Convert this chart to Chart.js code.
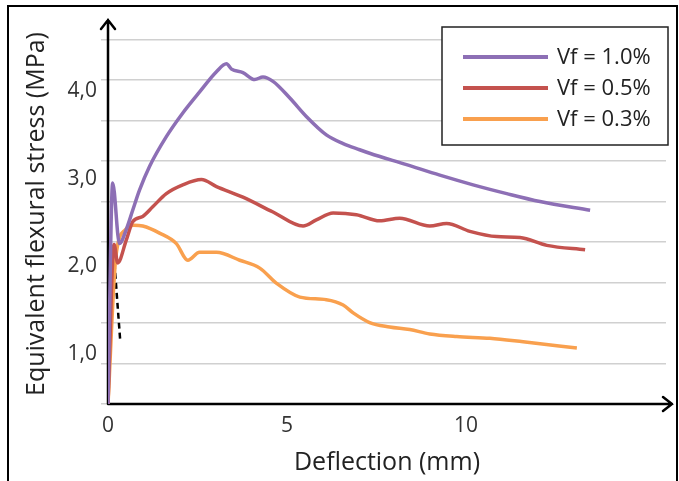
<!DOCTYPE html>
<html>
<head>
<meta charset="utf-8">
<script src="https://cdn.jsdelivr.net/npm/chart.js@4/dist/chart.umd.min.js"></script>
<style>
  html, body { margin: 0; padding: 0; background: #fff; }
  #wrap { width: 679px; height: 481px; }
</style>
</head>
<body>
<div id="wrap"><canvas id="chart" width="679" height="481"></canvas></div>
<script>
// Deflection (mm) and equivalent flexural stress (MPa)
var vf10X = [0, 0.13, 0.32, 0.51, 0.69, 0.88, 1.16, 1.63, 2.09, 2.56, 3.03, 3.31, 3.45, 3.77, 4.10, 4.33, 4.61, 5.08, 5.54, 6.10, 6.57, 7.03, 7.31, 8.34, 9.27, 10.20, 11.14, 12.07, 13.47];
var vf10Y = [0.43, 2.95, 2.26, 2.42, 2.64, 2.87, 3.14, 3.48, 3.75, 3.99, 4.22, 4.31, 4.25, 4.21, 4.13, 4.16, 4.11, 3.92, 3.71, 3.50, 3.40, 3.33, 3.29, 3.16, 3.04, 2.93, 2.83, 2.74, 2.64];

var vf05X = [0, 0.17, 0.27, 0.51, 0.69, 0.97, 1.25, 1.63, 2.09, 2.61, 3.03, 3.77, 4.61, 5.45, 5.82, 6.29, 6.94, 7.59, 8.15, 8.99, 9.46, 10.11, 10.86, 11.51, 12.26, 13.33];
var vf05Y = [0.43, 2.25, 2.04, 2.30, 2.51, 2.57, 2.68, 2.83, 2.93, 2.99, 2.91, 2.79, 2.62, 2.46, 2.53, 2.61, 2.59, 2.52, 2.55, 2.46, 2.49, 2.40, 2.34, 2.33, 2.24, 2.19];

var vf03X = [0, 0.22, 0.49, 0.72, 0.97, 1.44, 1.91, 2.23, 2.56, 3.03, 3.68, 4.24, 4.70, 5.36, 6.10, 6.57, 6.85, 7.31, 7.87, 8.43, 8.99, 9.74, 10.67, 11.60, 13.10];
var vf03Y = [0.43, 2.11, 2.42, 2.47, 2.46, 2.38, 2.26, 2.07, 2.16, 2.16, 2.07, 1.98, 1.81, 1.65, 1.62, 1.56, 1.47, 1.36, 1.31, 1.28, 1.23, 1.20, 1.18, 1.14, 1.07];

// dashed initial-slope line
var dashX = [0.18, 0.34];
var dashY = [2.04, 1.16];

var seriesNames = ['Vf = 1.0%', 'Vf = 0.5%', 'Vf = 0.3%'];
var xTickValues = [0, 5, 10];
var yTickValues = [1, 2, 3, 4];

function toPoints(xs, ys) {
  var pts = [];
  for (var i = 0; i < xs.length; i++) {
    pts.push({x: xs[i], y: ys[i]});
  }
  return pts;
}

var FONT = "'Open Sans', 'DejaVu Sans', sans-serif";

// axes with arrow heads, drawn under the curves
var axesPlugin = {
  id: 'arrowAxes',
  beforeDatasetsDraw: function(chart) {
    var ctx = chart.ctx;
    var a = chart.chartArea;
    ctx.save();
    ctx.strokeStyle = '#000';
    ctx.lineWidth = 2.5;
    ctx.lineCap = 'round';
    ctx.beginPath();
    ctx.moveTo(a.left, a.bottom);
    ctx.lineTo(a.right + 6, a.bottom);
    ctx.moveTo(a.right - 3, a.bottom - 7);
    ctx.lineTo(a.right + 6, a.bottom);
    ctx.lineTo(a.right - 3, a.bottom + 7);
    ctx.moveTo(a.left, a.bottom);
    ctx.lineTo(a.left, a.top - 4);
    ctx.moveTo(a.left - 7, a.top + 5);
    ctx.lineTo(a.left, a.top - 4);
    ctx.lineTo(a.left + 7, a.top + 5);
    ctx.stroke();
    ctx.restore();
  }
};

// boxed legend in the top right corner plus the outer frame
var boxPlugin = {
  id: 'boxLegend',
  afterDraw: function(chart) {
    var ctx = chart.ctx;
    ctx.save();
    var bx = 442, by = 27, bw = 226, bh = 118;
    ctx.fillStyle = '#fff';
    ctx.fillRect(bx, by, bw, bh);
    ctx.strokeStyle = '#222';
    ctx.lineWidth = 1.5;
    ctx.strokeRect(bx, by, bw, bh);

    var row = 0;
    chart.data.datasets.forEach(function(ds) {
      if (!ds.label) return;
      var y = by + 30 + row * 31;
      ctx.strokeStyle = ds.borderColor;
      ctx.lineWidth = 4;
      ctx.beginPath();
      ctx.moveTo(bx + 21, y);
      ctx.lineTo(bx + 106, y);
      ctx.stroke();
      ctx.fillStyle = '#222';
      ctx.font = '22px ' + FONT;
      ctx.textBaseline = 'middle';
      ctx.fillText(ds.label, bx + 115, y + 1);
      row++;
    });

    ctx.strokeStyle = '#000';
    ctx.lineWidth = 2;
    ctx.strokeRect(8, 6, 669, 490);
    ctx.restore();
  }
};

var lineStyle = {
  borderWidth: 3.5,
  pointRadius: 0,
  fill: false,
  cubicInterpolationMode: 'monotone'
};

var chart = new Chart(document.getElementById('chart'), {
  type: 'line',
  data: {
    datasets: [
      Object.assign({label: seriesNames[0], data: toPoints(vf10X, vf10Y), borderColor: '#8D6FB5'}, lineStyle),
      Object.assign({label: seriesNames[1], data: toPoints(vf05X, vf05Y), borderColor: '#C4524E'}, lineStyle),
      Object.assign({label: seriesNames[2], data: toPoints(vf03X, vf03Y), borderColor: '#F9A04E'}, lineStyle),
      {
        label: '',
        data: toPoints(dashX, dashY),
        borderColor: '#000',
        borderWidth: 2.5,
        borderDash: [6, 4],
        pointRadius: 0,
        fill: false
      }
    ]
  },
  options: {
    responsive: false,
    animation: false,
    layout: { padding: { top: 24, right: 13, left: 0, bottom: 0 } },
    plugins: {
      legend: { display: false },
      tooltip: { enabled: false }
    },
    scales: {
      x: {
        type: 'linear',
        min: 0,
        max: 15.59,
        afterBuildTicks: function(scale) {
          scale.ticks = xTickValues.map(function(v) { return {value: v}; });
        },
        afterFit: function(scale) { scale.height = 77; },
        grid: { display: false, drawTicks: false },
        border: { display: false },
        ticks: {
          padding: 9,
          color: '#333',
          font: { family: FONT, size: 21 },
          maxRotation: 0,
          callback: function(v) { return String(v); }
        },
        title: {
          display: true,
          text: 'Deflection (mm)',
          color: '#222',
          font: { family: FONT, size: 25 },
          padding: { top: 0, bottom: 3 }
        }
      },
      y: {
        type: 'linear',
        position: 'left',
        weight: 1,
        min: 0.431,
        max: 4.764,
        afterBuildTicks: function(scale) {
          scale.ticks = yTickValues.map(function(v) { return {value: v}; });
        },
        afterFit: function(scale) { scale.width = 108; },
        grid: { display: false, drawTicks: false },
        border: { display: false },
        ticks: {
          padding: 11,
          color: '#333',
          font: { family: FONT, size: 21 },
          callback: function(v) { return v.toFixed(1).replace('.', ','); }
        },
        title: {
          display: true,
          text: 'Equivalent flexural stress (MPa)',
          color: '#222',
          font: { family: FONT, size: 25 },
          padding: { top: 22, bottom: 0 }
        }
      },
      yg: {
        type: 'linear',
        position: 'left',
        weight: 0,
        min: 0,
        max: 9.383,
        afterFit: function(scale) { scale.width = 0; },
        grid: { color: '#d0d0d0', lineWidth: 1.5, tickLength: 7 },
        border: { display: false },
        ticks: { stepSize: 1, includeBounds: false, display: false }
      }
    }
  },
  plugins: [axesPlugin, boxPlugin]
});
</script>
</body>
</html>
